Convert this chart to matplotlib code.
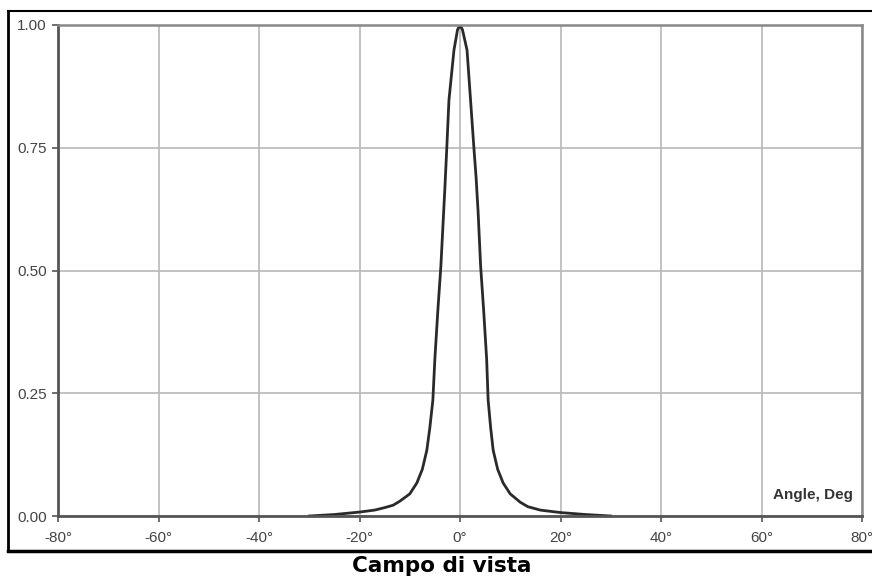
import matplotlib
matplotlib.use("Agg")
import matplotlib.pyplot as plt

angles = [-30, -25, -20, -17, -15, -13.3, -12, -10, -8.6, -7.5, -6.6, -6.0, -5.4,
          -5.0, -4.4, -3.8, -3.4, -3.0, -2.65, -2.2, -1.2, -0.5, 0,
          0.5, 1.4, 2.1, 2.8, 3.2, 3.6, 4.1, 4.7, 5.3, 5.6, 6.1, 6.6, 7.5, 8.6,
          10, 12, 13.5, 16, 20, 25, 30]
intensity = [0.0, 0.003, 0.008, 0.012, 0.017, 0.022, 0.03, 0.045, 0.067, 0.095, 0.134, 0.18, 0.236,
             0.32, 0.42, 0.51, 0.59, 0.67, 0.745, 0.847, 0.949, 0.99, 1.0,
             0.99, 0.949, 0.847, 0.745, 0.69, 0.62, 0.51, 0.42, 0.32, 0.236, 0.18, 0.134, 0.095, 0.067,
             0.045, 0.028, 0.019, 0.012, 0.007, 0.003, 0.0]

x_ticks = [-80, -60, -40, -20, 0, 20, 40, 60, 80]
x_tick_labels = ["-80°", "-60°", "-40°", "-20°", "0°", "20°", "40°", "60°", "80°"]
y_ticks = [0.0, 0.25, 0.5, 0.75, 1.0]
y_tick_labels = ["0.00", "0.25", "0.50", "0.75", "1.00"]

plt.rcParams['font.family'] = ['Liberation Sans', 'DejaVu Sans']

fig = plt.figure(figsize=(8.72, 5.77), dpi=100)
fig.patch.set_facecolor("white")

# outer frame
fig.add_artist(plt.Line2D([8/872, 1.0], [1 - 11/577, 1 - 11/577], color="black", lw=1.5,
                          transform=fig.transFigure))
fig.add_artist(plt.Line2D([8/872, 1.0], [1 - 551/577, 1 - 551/577], color="black", lw=2.5,
                          transform=fig.transFigure))
fig.add_artist(plt.Line2D([8/872, 8/872], [1 - 11/577, 1 - 551/577], color="black", lw=2,
                          transform=fig.transFigure))

ax = fig.add_axes([58/872, 1 - 516/577, (862 - 58)/872, (516 - 25)/577])
ax.set_xlim(-80, 80)
ax.set_ylim(0, 1)
ax.set_xticks(x_ticks)
ax.set_xticklabels(x_tick_labels)
ax.set_yticks(y_ticks)
ax.set_yticklabels(y_tick_labels)
ax.grid(True, color="#b8b8b8", lw=1.2)
ax.set_axisbelow(True)

for side in ["left", "bottom"]:
    ax.spines[side].set_color("#555555")
    ax.spines[side].set_linewidth(2)
for side in ["top", "right"]:
    ax.spines[side].set_color("#888888")
    ax.spines[side].set_linewidth(1.8)

ax.tick_params(axis="both", colors="#555555", labelcolor="#444444", labelsize=11,
               length=4, width=1.2, direction="out")
ax.tick_params(axis="x", pad=7)
ax.tick_params(axis="y", pad=4)

ax.plot(angles, intensity, color="#2a2a2a", lw=2)

ax.text(853/872, 1 - 495/577, "Angle, Deg", transform=fig.transFigure, ha="right", va="center",
        fontsize=11, fontweight="bold", color="#333333")

fig.text(442/872, 1 - 572/577, "Campo di vista", ha="center", va="baseline",
         fontsize=15.5, fontweight="bold", color="black", family="DejaVu Sans")

fig.savefig("out.png", dpi=100)
